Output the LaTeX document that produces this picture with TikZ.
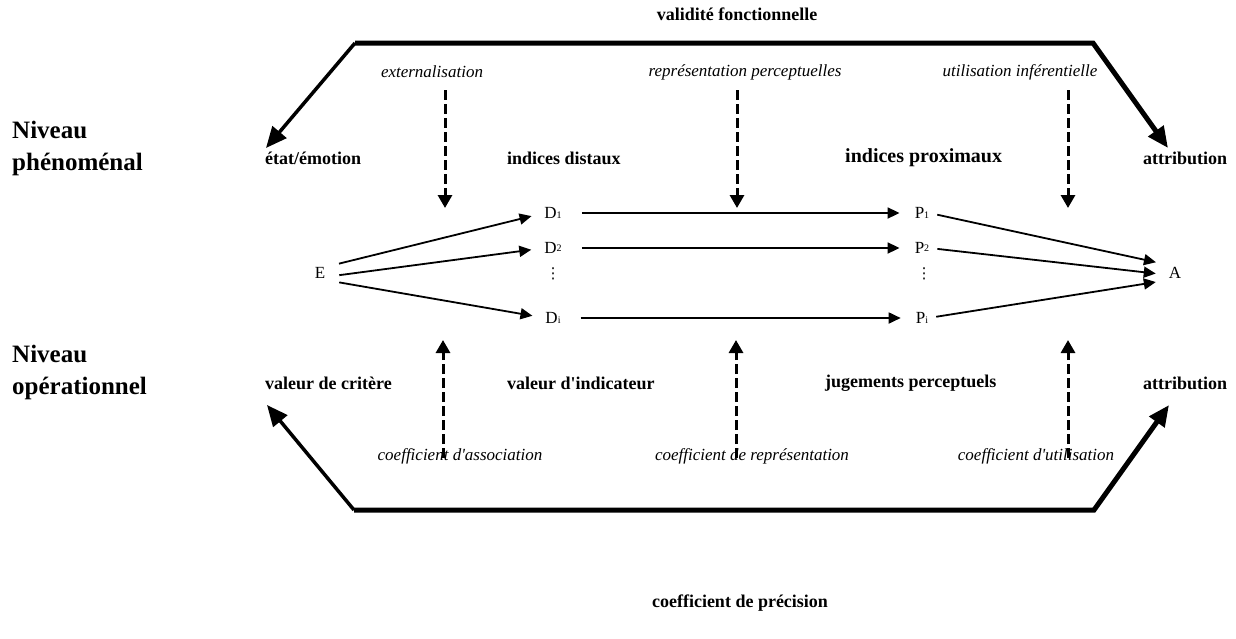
\documentclass[tikz,border=0pt]{standalone}
\usepackage{fontspec}
\setmainfont{Liberation Serif}
\newfontfamily\symfont{DejaVu Sans}
\usetikzlibrary{arrows.meta}
\newcommand{\cuesub}[1]{{\fontsize{10}{10}\selectfont #1}}

\begin{document}
\begin{tikzpicture}[
    x=1pt, y=1pt,
    normal line/.style={-{Triangle[length=12pt,width=11pt]},line width=1.8pt},
    bold line/.style={line width=5pt},
    bold arrow/.style={-{Triangle[length=21pt,width=18pt]},line width=3.5pt},
    dashed arrow/.style={-{Triangle[length=13pt,width=14pt]},line width=3pt,dash pattern=on 10pt off 4pt},
    title/.style={font=\fontsize{18}{20}\selectfont\bfseries,inner sep=0pt},
    level/.style={font=\fontsize{25}{32}\selectfont\bfseries,align=left,inner sep=0pt,anchor=west},
    heading/.style={font=\fontsize{18}{20}\selectfont\bfseries,inner sep=0pt,anchor=west},
    coef/.style={font=\fontsize{17}{19}\selectfont\itshape,inner sep=0pt},
    var/.style={font=\fontsize{17}{19}\selectfont,inner sep=0pt},
    dots/.style={font=\fontsize{15}{15}\symfont,inner sep=0pt},
]
\useasboundingbox (0,0) rectangle (1236,-638);

% titles and levels
\node[title] (valid) at (737,-14) {validité fonctionnelle};
\node[title] (precis) at (740,-603) {coefficient de précision};
\node[level] (lvl-1) at (12,-148) {Niveau\\phénoménal};
\node[level] (lvl-2) at (12,-372) {Niveau\\opérationnel};

% headings
\node[heading] (state) at (265,-158) {état/émotion};
\node[heading] (dist) at (507,-158) {indices distaux};
\node[heading,font=\fontsize{20}{22}\selectfont\bfseries] (prox) at (845,-158) {indices proximaux};
\node[heading] (attr-1) at (1143,-158) {attribution};
\node[heading] (crit) at (265,-383) {valeur de critère};
\node[heading] (ind) at (507,-383) {valeur d\textquotesingle indicateur};
\node[heading] (judg) at (825,-383) {jugements perceptuels};
\node[heading] (attr-2) at (1143,-383) {attribution};

% coefficients
\node[coef] (ext) at (432,-72) {externalisation};
\node[coef] (repr) at (745,-72) {représentation perceptuelles};
\node[coef] (infer) at (1020,-72) {utilisation inférentielle};
\node[coef] (assoc) at (460,-456) {coefficient d\textquotesingle association};
\node[coef] (reprc) at (752,-456) {coefficient de représentation};
\node[coef] (utilc) at (1036,-456) {coefficient d\textquotesingle utilisation};

% lens
\node[var] (E) at (320,-273) {E};
\node[var] (D-1) at (553,-213) {D\cuesub{1}};
\node[var,below of=D-1,node distance=35pt] (D-2) {D\raisebox{2pt}{\cuesub{2}}};
\node[dots,below of=D-2,node distance=26pt] (D-dots) {⋮};
\node[var,below of=D-2,node distance=70pt] (D-i) {D\cuesub{i}};
\node[var,right of=D-1,node distance=369pt] (P-1) {P\cuesub{1}};
\node[var,right of=D-2,node distance=369pt] (P-2) {P\raisebox{2pt}{\cuesub{2}}};
\node[dots,right of=D-dots,node distance=371pt] (P-dots) {⋮};
\node[var,right of=D-i,node distance=369pt] (P-i) {P\cuesub{i}};
\node[var] (A) at (1175,-273) {A};

\path[normal line,shorten <=14pt,shorten >=13pt]
    ([yshift=6pt]E.east) edge (D-1.west)
    ([yshift=-4pt]E.east) edge (D-2.west)
    ([yshift=-7pt]E.east) edge (D-i.west)
;
\path[normal line,shorten <=20pt,shorten >=15pt]
    (D-1) edge (P-1)
    (D-2) edge (P-2)
    (D-i) edge (P-i)
;
\path[normal line,shorten <=8pt,shorten >=13pt]
    (P-1.east) edge ([yshift=8pt]A.west)
    (P-2.east) edge ([yshift=-2pt]A.west)
    (P-i.east) edge ([yshift=-7pt]A.west)
;

% dashed influences
\coordinate (ext-a) at (445,-90);
\coordinate (ext-b) at (445,-208);
\coordinate (repr-a) at (737,-90);
\coordinate (repr-b) at (737,-208);
\coordinate (infer-a) at (1068,-90);
\coordinate (infer-b) at (1068,-208);
\coordinate (assoc-a) at (443,-458);
\coordinate (assoc-b) at (443,-340);
\coordinate (reprc-a) at (736,-458);
\coordinate (reprc-b) at (736,-340);
\coordinate (utilc-a) at (1068,-458);
\coordinate (utilc-b) at (1068,-340);
\draw[dashed arrow] (ext-a) -- (ext-b);
\draw[dashed arrow] (repr-a) -- (repr-b);
\draw[dashed arrow] (infer-a) -- (infer-b);
\draw[dashed arrow] (assoc-a) -- (assoc-b);
\draw[dashed arrow] (reprc-a) -- (reprc-b);
\draw[dashed arrow] (utilc-a) -- (utilc-b);

% validity and precision frames
\coordinate (top-l) at (355,-43);
\coordinate (top-r) at (1093,-43);
\coordinate (bot-l) at (354,-510);
\coordinate (bot-r) at (1094,-510);
\coordinate (tip-tl) at (266,-148);
\coordinate (tip-tr) at (1168,-148);
\coordinate (tip-bl) at (267,-405);
\coordinate (tip-br) at (1169,-405);
\draw[bold arrow] (top-l) -- (tip-tl);
\draw[bold arrow,line width=5pt] (top-l) -- (top-r) -- (tip-tr);
\draw[bold arrow] (bot-l) -- (tip-bl);
\draw[bold arrow,line width=5pt] (bot-l) -- (bot-r) -- (tip-br);
\end{tikzpicture}
\end{document}
